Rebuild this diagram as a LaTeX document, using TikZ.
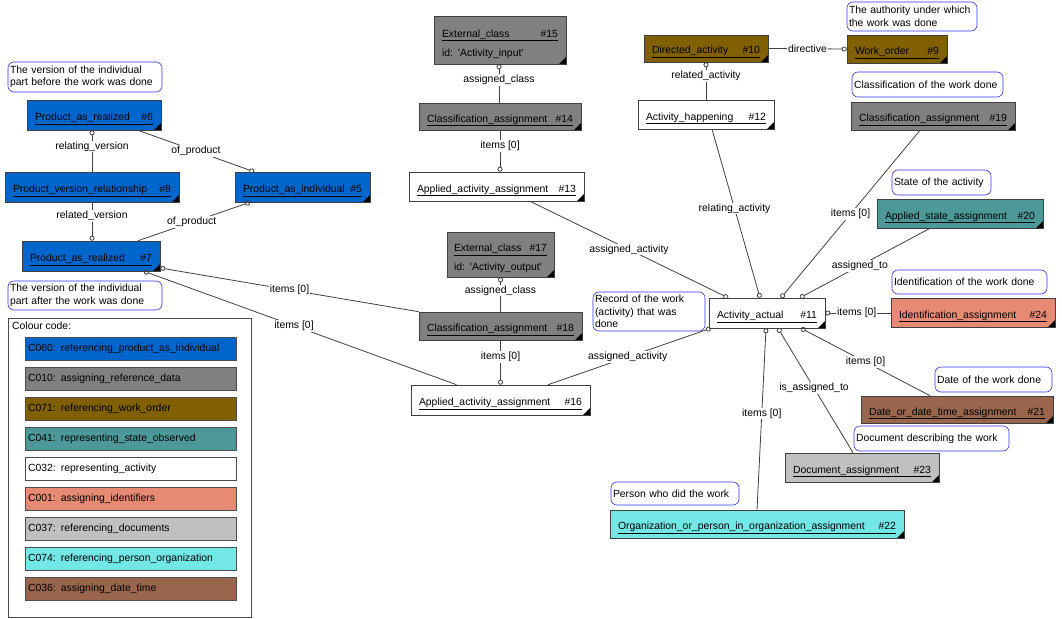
\documentclass[tikz,border=0pt]{standalone}
\usepackage{fontspec}
\setmainfont{Liberation Sans}
\usetikzlibrary{arrows.meta}

\definecolor{cblue}{RGB}{0,102,204}
\definecolor{cgray}{RGB}{128,128,128}
\definecolor{colive}{RGB}{128,96,0}
\definecolor{cteal}{RGB}{77,153,153}
\definecolor{csalmon}{RGB}{230,138,115}
\definecolor{clight}{RGB}{192,192,192}
\definecolor{ccyan}{RGB}{115,230,230}
\definecolor{cbrown}{RGB}{153,102,77}
\definecolor{cnote}{RGB}{51,51,255}

% class name, underlined, number pushed to the right
\newcommand{\cnx}[2]{\underline{\hbox to\linewidth{#1\hfill\##2}}}
\newcommand{\cn}[2]{\raisebox{-5.5pt}[0pt][0pt]{\cnx{#1}{#2}}}
\newcommand{\sq}{\textquotesingle}

\tikzset{
  cls/.style={draw=black!75, line width=0.6pt, inner xsep=8pt, inner ysep=2pt,
    minimum height=29pt, align=left,
    path picture={\fill[black] (path picture bounding box.south east)
      -- ++(-7pt,0pt) -- ++(7pt,7pt) -- cycle;}},
  note/.style={draw=cnote, line width=0.6pt, rounded corners=6pt, fill=white,
    align=left, inner xsep=2pt, inner ysep=2pt},
  rel/.style={draw=black!75, line width=0.8pt},
  lbl/.style={fill=white, inner sep=1pt},
  legitem/.style={draw=black!70, line width=0.6pt, text width=205pt,
    inner xsep=3pt, minimum height=23pt, align=left}
}

\begin{document}
\begin{tikzpicture}[x=1pt, y=-1pt, font=\fontsize{10.4}{12.5}\selectfont,
  >={Circle[open,length=5pt,width=5pt]}]

\useasboundingbox (0,0) rectangle (1062,618);

% product versions
\node[cls, fill=cblue, text width=118pt, minimum height=30pt] (par6) at (94,115) {\cn{Product\_as\_realized}{6}};
\node[cls, fill=cblue, text width=158pt, minimum height=30pt] (pvr8) at (92,187) {\cn{Product\_version\_relationship}{8}};
\node[cls, fill=cblue, text width=119pt, minimum height=30pt] (pai5) at (302.5,187) {\cn{Product\_as\_individual}{5}};
\node[cls, fill=cblue, text width=122pt, minimum height=30pt] (par7) at (91,256) {\cn{Product\_as\_realized}{7}};

% activity input / output
\node[cls, fill=cgray, text width=116pt, minimum height=48pt] (ec15) at (500,40) {\rule{0pt}{15.5pt}\cnx{External\_class}{15}\\[6.5pt]id: \sq Activity\_input\sq};
\node[cls, fill=cgray, text width=146pt, minimum height=27pt] (ca14) at (500,116.5) {\cn{Classification\_assignment}{14}};
\node[cls, fill=white, text width=159pt] (aaa13) at (496.5,186.5) {\cn{Applied\_activity\_assignment}{13}};
\node[cls, fill=cgray, text width=93pt, minimum height=45pt, inner xsep=7pt] (ec17) at (500.5,254.5) {\rule{0pt}{15.5pt}\cnx{External\_class}{17}\\[6.5pt]id: \sq Activity\_output\sq};
\node[cls, fill=cgray, text width=147pt, minimum height=28pt] (ca18) at (500.5,326) {\cn{Classification\_assignment}{18}};
\node[cls, fill=white, text width=163pt, minimum height=30pt] (aaa16) at (500.5,400) {\cn{Applied\_activity\_assignment}{16}};

% the activity
\node[cls, fill=colive, text width=108pt, minimum height=27pt] (da10) at (706,48.5) {\cn{Directed\_activity}{10}};
\node[cls, fill=colive, text width=84pt, minimum height=28pt] (wo9) at (897,49) {\cn{Work\_order}{9}};
\node[cls, fill=white, text width=120pt] (ah12) at (706,114.5) {\cn{Activity\_happening}{12}};
\node[cls, fill=cgray, text width=148pt, minimum height=28pt] (ca19) at (933,116) {\cn{Classification\_assignment}{19}};
\node[cls, fill=cteal, text width=150pt] (asa20) at (960,213.5) {\cn{Applied\_state\_assignment}{20}};
\node[cls, fill=white, text width=100pt, minimum height=30pt] (aa11) at (767,313) {\cn{Activity\_actual}{11}};
\node[cls, fill=csalmon, text width=148pt] (ia24) at (973,312.5) {\cn{Identification\_assignment}{24}};
\node[cls, fill=cbrown, text width=176pt, minimum height=27pt] (ddta21) at (957,409.5) {\cn{Date\_or\_date\_time\_assignment}{21}};
\node[cls, fill=clight, text width=138pt] (doca23) at (862,467.5) {\cn{Document\_assignment}{23}};
\node[cls, fill=ccyan, text width=278pt, minimum height=28pt] (opoa22) at (757,524) {\cn{Organization\_or\_person\_in\_organization\_assignment}{22}};

% notes
\node[note, text width=150pt, minimum height=30pt] (nbefore) at (85,77) {The version of the individual\\part before the work was done};
\node[note, text width=150pt, minimum height=29pt] (nafter) at (85,295.5) {The version of the individual\\part after the work was done};
\node[note, text width=108pt, minimum height=39pt] (nrecord) at (649,311.5) {Record of the work\\(activity) that was\\done};
\node[note, text width=126pt, minimum height=29pt] (nauth) at (912,16.5) {The authority under which\\the work was done};
\node[note, text width=147pt, minimum height=25pt] (nclass) at (927.5,84.5) {Classification of the work done};
\node[note, text width=95pt, minimum height=25pt] (nstate) at (941.5,182.5) {State of the activity};
\node[note, text width=151pt, minimum height=24pt] (nident) at (969.5,282) {Identification of the work done};
\node[note, text width=113pt, minimum height=25pt] (ndate) at (993.5,379.5) {Date of the work done};
\node[note, text width=151pt, minimum height=25pt] (ndoc) at (931.5,438.5) {Document describing the work};
\node[note, text width=124pt, minimum height=23pt] (nperson) at (675,493.5) {Person who did the work};

% connectors
\draw[rel,<-] (pvr8.north |- par6.south) -- (pvr8.north) node[lbl,pos=0.39]{relating\_version};
\draw[rel,->] ([xshift=44pt]par6.south) -- ([xshift=-48.5pt]pai5.north) node[lbl,pos=0.5]{of\_product};
\draw[rel,->] (pvr8.south) -- (pvr8.south |- par7.north) node[lbl,pos=0.35]{related\_version};
\draw[rel,->] ([xshift=47pt]par7.north) -- ([xshift=-52.5pt]pai5.south) node[lbl,pos=0.48]{of\_product};
\draw[rel,<-] ([yshift=-12pt]par7.east) -- (ca18.north west) node[lbl,pos=0.5]{items [0]};
\draw[rel,<-] ([xshift=53pt]par7.south) -- ([xshift=-44pt]aaa16.north) node[lbl,pos=0.48]{items [0]};

\draw[rel,<-] ([xshift=-1pt]ec15.south) -- ([xshift=-1pt]ca14.north) node[lbl,pos=0.4]{assigned\_class};
\draw[rel,->] (ca14.south) -- (ca14.south |- aaa13.north) node[lbl,pos=0.38]{items [0]};
\draw[rel,->] ([xshift=33.5pt]aaa13.south) -- ([xshift=-39pt]aa11.north) node[lbl,pos=0.5]{assigned\_activity};
\draw[rel,<-] (ec17.south) -- (ec17.south |- ca18.north) node[lbl,pos=0.38]{assigned\_class};
\draw[rel,->] (ca18.south) -- (ca18.south |- aaa16.north) node[lbl,pos=0.37]{items [0]};
\draw[rel,->] ([xshift=47.5pt]aaa16.north) -- ([xshift=2pt]aa11.south west) node[lbl,pos=0.49]{assigned\_activity};

\draw[rel,->] (da10.east) -- (wo9.west) node[lbl,pos=0.5]{directive};
\draw[rel,<-] (da10.south) -- (da10.south |- ah12.north) node[lbl,pos=0.37]{related\_activity};
\draw[rel,->] ([xshift=6pt]ah12.south) -- ([xshift=-7pt]aa11.north) node[lbl,pos=0.47]{relating\_activity};
\draw[rel,->] ([xshift=-13pt]ca19.south) -- ([xshift=14pt]aa11.north) node[lbl,pos=0.5]{items [0]};
\draw[rel,->] ([xshift=-30pt]asa20.south) -- ([xshift=33pt]aa11.north) node[lbl,pos=0.54]{assigned\_to};
\draw[rel,<-] (aa11.east) -- (aa11.east -| ia24.west) node[lbl,pos=0.48]{items [0]};
\draw[rel,<-] ([xshift=34pt]aa11.south) -- ([xshift=-27pt]ddta21.north) node[lbl,pos=0.5]{items [0]};
\draw[rel,<-] ([xshift=11pt]aa11.south) -- ([xshift=-9pt]doca23.north) node[lbl,pos=0.48]{is\_assigned\_to};
\draw[rel,<-] ([xshift=-1pt]aa11.south) -- (opoa22.north) node[lbl,pos=0.47]{items [0]};

% colour code
\node[draw=black!70, line width=0.6pt, minimum width=243pt, minimum height=299pt] (legend) at (129.5,467.5) {};
\node[anchor=west, inner sep=0pt] (legtitle) at (12,326) {Colour code:};
\foreach \col/\txt [count=\k from 0] in {
  cblue/C060: referencing\_product\_as\_individual,
  cgray/C010: assigning\_reference\_data,
  colive/C071: referencing\_work\_order,
  cteal/C041: representing\_state\_observed,
  white/C032: representing\_activity,
  csalmon/C001: assigning\_identifiers,
  clight/C037: referencing\_documents,
  ccyan/C074: referencing\_person\_organization,
  cbrown/C036: assigning\_date\_time}
  \node[legitem, fill=\col] (leg\k) at (130.5,348.5+30*\k) {\txt};

\end{tikzpicture}
\end{document}
